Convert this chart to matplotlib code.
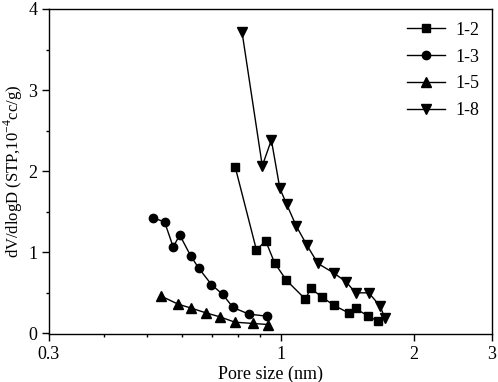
import numpy as np
import matplotlib
matplotlib.use("Agg")
import matplotlib.pyplot as plt
from matplotlib.ticker import FixedLocator, FixedFormatter, MultipleLocator

plt.rcParams['font.family'] = ['Liberation Serif', 'DejaVu Serif']
plt.rcParams['mathtext.fontset'] = 'custom'
plt.rcParams['mathtext.rm'] = 'Liberation Serif'

# datos
x_12 = [0.790, 0.882, 0.925, 0.969, 1.030, 1.137, 1.169, 1.239, 1.317, 1.423, 1.476, 1.573, 1.657]
y_12 = [2.046, 1.025, 1.140, 0.868, 0.654, 0.420, 0.552, 0.448, 0.346, 0.251, 0.305, 0.214, 0.148]

x_13 = [0.515, 0.547, 0.572, 0.592, 0.627, 0.654, 0.698, 0.740, 0.781, 0.848, 0.931]
y_13 = [1.423, 1.374, 1.065, 1.210, 0.951, 0.799, 0.600, 0.478, 0.317, 0.235, 0.210]

x_15 = [0.536, 0.587, 0.626, 0.678, 0.730, 0.788, 0.866, 0.936]
y_15 = [0.460, 0.358, 0.312, 0.251, 0.201, 0.136, 0.120, 0.107]

x_18 = [0.818, 0.909, 0.953, 0.996, 1.032, 1.085, 1.146, 1.214, 1.317, 1.406, 1.476, 1.581, 1.678, 1.716]
y_18 = [3.720, 2.065, 2.383, 1.786, 1.589, 1.321, 1.086, 0.860, 0.744, 0.633, 0.498, 0.498, 0.333, 0.193]

xticks = [0.3, 1, 2, 3]
xtick_labels = ['0.3', '1', '2', '3']
xminor = [0.4, 0.5, 0.6, 0.7, 0.8, 0.9]

fig = plt.figure(figsize=(4.98, 3.82), dpi=100)
ax = fig.add_axes([49/498, 1 - 334/382, 443/498, 325/382])

ax.plot(x_12, y_12, '-s', color='black', lw=1, ms=5.5, label='1-2')
ax.plot(x_13, y_13, '-o', color='black', lw=1, ms=6, label='1-3')
ax.plot(x_15, y_15, '-^', color='black', lw=1, ms=6.5, label='1-5')
ax.plot(x_18, y_18, '-v', color='black', lw=1, ms=6.5, label='1-8')

ax.set_xscale('log')
ax.set_xlim(0.3, 3)
ax.set_ylim(-0.01, 4)
ax.xaxis.set_major_locator(FixedLocator(xticks))
ax.xaxis.set_major_formatter(FixedFormatter(xtick_labels))
ax.xaxis.set_minor_locator(FixedLocator(xminor))
ax.xaxis.set_minor_formatter(FixedFormatter([''] * len(xminor)))
ax.yaxis.set_major_locator(MultipleLocator(1))
ax.yaxis.set_minor_locator(MultipleLocator(0.5))

ax.tick_params(which='major', direction='out', length=5, width=1, labelsize=13)
ax.tick_params(which='minor', direction='out', length=2.5, width=1)
for s in ax.spines.values():
    s.set_linewidth(1)

ax.set_xlabel('Pore size (nm)', fontsize=13, labelpad=2)
ax.set_ylabel(r'dV/dlogD (STP,10$^{-4}$cc/g)', fontsize=12, labelpad=2)

ax.legend(loc='upper right', frameon=False, fontsize=13, handlelength=2.1,
          handletextpad=0.6, labelspacing=0.55, borderaxespad=0.3)

fig.savefig('out.png', dpi=100)
